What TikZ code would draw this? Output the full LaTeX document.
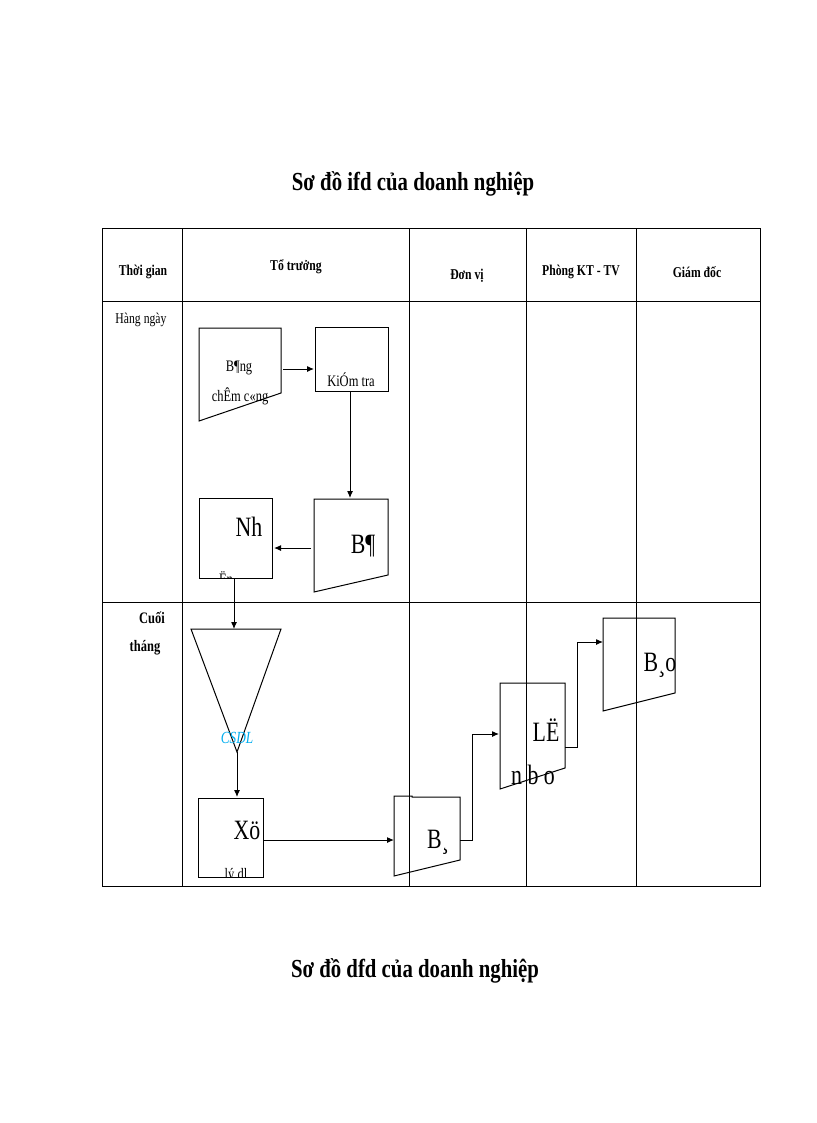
\documentclass[tikz,border=0pt]{standalone}
\usepackage{fontspec}
\setmainfont{Liberation Serif}
\usetikzlibrary{arrows.meta}
\newcommand{\sq}[1]{\scalebox{0.78}[1]{#1}}
\begin{document}
\begin{tikzpicture}[x=1pt,y=-1pt,
  hd/.style={font=\bfseries\fontsize{15}{16}\selectfont,inner sep=0pt},
  tx/.style={font=\fontsize{16}{17}\selectfont,inner sep=0pt},
  big/.style={font=\fontsize{28}{28}\selectfont,inner sep=0pt},
  shp/.style={draw,line width=1pt},
  arr/.style={-{Latex[length=7pt,width=6pt]},line width=1pt},
  ln/.style={line width=1pt}]
\useasboundingbox (0,0) rectangle (816,1123);
% titles
\node[font=\bfseries\fontsize{26}{28}\selectfont] (t1) at (413,184) {\scalebox{0.8}[1]{Sơ đồ ifd của doanh nghiệp}};
\node[font=\bfseries\fontsize{26}{28}\selectfont] (t2) at (415,971) {\scalebox{0.8}[1]{Sơ đồ dfd của doanh nghiệp}};
% table
\draw[line width=1pt] (102,229) rectangle (760,886);
\foreach \x in {182,409,526,636} \draw[line width=1pt] (\x,229) -- (\x,886);
\draw[line width=1pt] (102,301) -- (760,301);
\draw[line width=1pt] (102,602) -- (760,602);
\node[hd] (h1) at (143,272) {\sq{Thời gian}};
\node[hd] (h2) at (296,267) {\sq{Tổ trưởng}};
\node[hd] (h3) at (467,276) {\sq{Đơn vị}};
\node[hd] (h4) at (581,272) {\sq{Phòng KT - TV}};
\node[hd] (h5) at (697,272) {\sq{Giám đốc}};
\node[font=\fontsize{15}{16}\selectfont,inner sep=0pt] (r1) at (141,320) {\sq{Hàng ngày}};
\node[hd,font=\bfseries\fontsize{16}{17}\selectfont] (r2a) at (152,618) {\sq{Cuối}};
\node[hd,font=\bfseries\fontsize{16}{17}\selectfont] (r2b) at (145,648) {\sq{tháng}};
% Bang cham cong
\draw[shp] (199,328) -- (281,328) -- (281,393) -- (199,421) -- cycle;
\coordinate (bcc) at (281,369);
\node[tx] at (239,368) {\sq{B¶ng}};
\node[tx] at (240,396) {\sq{chÊm c«ng}};
% Kiem tra
\draw[shp] (315,327) rectangle (388,391);
\coordinate (kt) at (314,369);
\coordinate (ktb) at (350,392);
\node[tx] at (351,380) {\sq{KiÓm tra}};
\draw[arr] (bcc)++(2,0) -- (kt);
% Bang
\draw[shp] (314,499) -- (388,499) -- (388,575) -- (314,592) -- cycle;
\coordinate (bt) at (350,498);
\coordinate (bl) at (311,548);
\node[big] at (363,546) {\sq{B¶}};
\draw[arr] (ktb) -- (bt);
% Nhan
\draw[shp] (199,498) rectangle (272,578);
\coordinate (nr) at (274,548);
\coordinate (nb) at (234,578);
\begin{scope}
\clip (199,498) rectangle (272,578);
\node[big] at (249,527) {\sq{Nh}};
\node[tx] at (226,578) {\sq{Ën}};
\end{scope}
\draw[arr] (bl) -- (nr);
% triangle
\draw[shp] (191,629) -- (281,629) -- (237,752) -- cycle;
\coordinate (tt) at (234,629);
\coordinate (ta) at (237,752);
\node[font=\itshape\fontsize{17}{17}\selectfont,text=cyan] at (237,738) {\sq{CSDL}};
\draw[arr] (nb) -- (tt);
% Xu ly
\draw[shp] (198,798) rectangle (263,877);
\coordinate (xt) at (237,797);
\coordinate (xr) at (263,840);
\begin{scope}
\clip (198,798) rectangle (263,877);
\node[big] at (247,830) {\sq{Xö}};
\node[tx] at (236,876) {\sq{lý dl}};
\end{scope}
\draw[arr] (ta) -- (xt);
% Bao (don vi)
\draw[shp] (394,796) -- (412,796) -- (412,797) -- (460,797) -- (460,860) -- (394,876) -- cycle;
\coordinate (bdl) at (394,840);
\coordinate (bdr) at (460,840);
\node[big] at (438,842) {\sq{B¸}};
\draw[arr] (xr) -- (bdl);
% So (LE)
\draw[shp] (500,683) -- (565,683) -- (565,768) -- (500,789) -- cycle;
\coordinate (sl) at (499,734);
\coordinate (sr) at (565,747);
\node[big] at (546,730) {\sq{LË}};
\node[big] at (533,775) {\sq{n b o}};
\draw[arr] (bdr) -- (472,840) -- (472,734) -- (sl);
% Bao cao (giam doc)
\draw[shp] (603,618) -- (675,618) -- (675,693) -- (603,711) -- cycle;
\coordinate (gl) at (603,642);
\node[big] at (660,665) {\sq{B¸o}};
\draw[arr] (sr) -- (577,747) -- (577,642) -- (gl);
\end{tikzpicture}
\end{document}
